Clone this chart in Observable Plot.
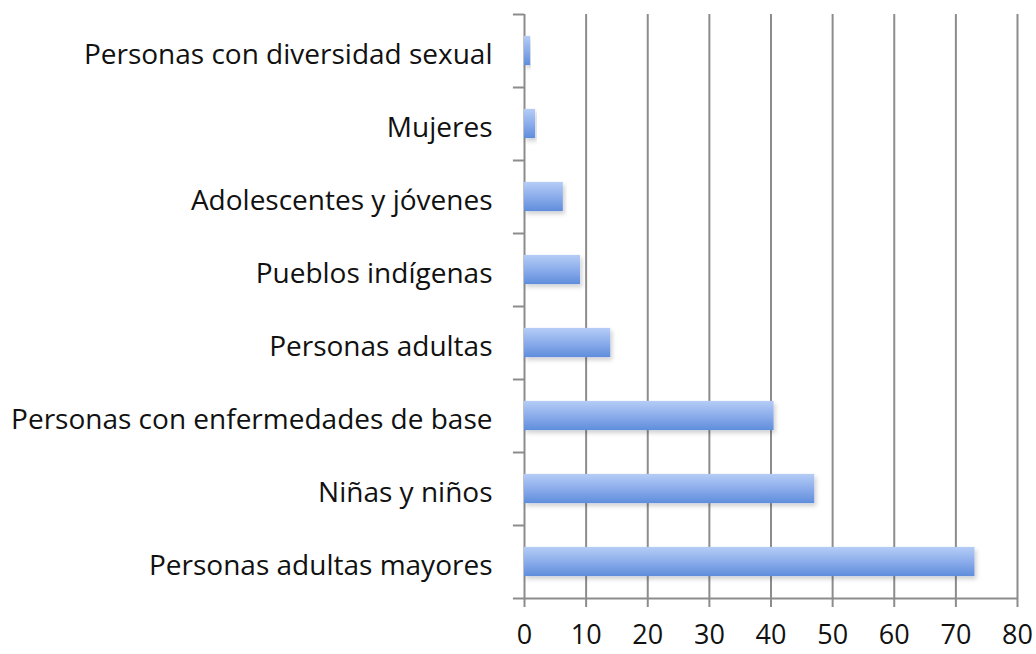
<!DOCTYPE html>
<html>
<head>
<meta charset="utf-8">
<script src="https://cdn.jsdelivr.net/npm/d3@7"></script>
<script src="https://cdn.jsdelivr.net/npm/@observablehq/plot@0.6"></script>
<style>
  html, body { margin: 0; padding: 0; background: #fff; }
  #chart svg { display: block; }
</style>
</head>
<body>
<div id="chart"></div>
<script>
// Categories listed top to bottom
const categories = [
  "Personas con diversidad sexual",
  "Mujeres",
  "Adolescentes y jóvenes",
  "Pueblos indígenas",
  "Personas adultas",
  "Personas con enfermedades de base",
  "Niñas y niños",
  "Personas adultas mayores"
];
const values = [1.0, 1.8, 6.3, 9.1, 14.0, 40.5, 47.1, 73.1];
const xTicks = [0, 10, 20, 30, 40, 50, 60, 70, 80];

const data = categories.map((c, i) => ({category: c, value: values[i], index: i}));
const boundaries = d3.range(categories.length + 1);

const fontFamily = "'Open Sans', sans-serif";
const gridColor = "#8c8c8c";

const chart = Plot.plot({
  width: 1036,
  height: 654,
  marginLeft: 524,
  marginRight: 19,
  marginTop: 14,
  marginBottom: 56,
  style: {fontFamily, background: "#fff", overflow: "visible"},
  x: {domain: [0, 80], ticks: xTicks},
  y: {domain: [categories.length, 0], axis: null},
  marks: [
    Plot.gridX(xTicks.slice(1), {stroke: gridColor, strokeOpacity: 1, strokeWidth: 2}),
    Plot.ruleY([categories.length], {x1: 0, x2: 80, stroke: gridColor, strokeWidth: 2}),
    Plot.ruleX([0], {y1: 0, y2: categories.length, stroke: gridColor, strokeWidth: 2}),
    Plot.ruleY(boundaries, {x1: -1.8, x2: 0, stroke: gridColor, strokeWidth: 2}),
    Plot.axisX({
      ticks: xTicks, tickSize: 9, tickPadding: 17, stroke: gridColor, strokeWidth: 2,
      fontSize: 27, fill: "#111", label: null
    }),
    Plot.rectX(data, {
      x1: 0, x2: "value",
      y1: d => d.index + 0.3, y2: d => d.index + 0.7,
      fill: "#8cadeb", ariaLabel: "bars"
    }),
    Plot.text(data, {
      x: 0, y: d => d.index + 0.5, text: "category",
      textAnchor: "end", dx: -32, dy: 4, fontSize: 28, fill: "#111"
    })
  ]
});

const ns = "http://www.w3.org/2000/svg";
const defs = document.createElementNS(ns, "defs");
defs.innerHTML = `
  <linearGradient id="barGrad" x1="0" y1="0" x2="0" y2="1">
    <stop offset="0" stop-color="#b5cdf6"/>
    <stop offset="0.5" stop-color="#8cadeb"/>
    <stop offset="1" stop-color="#5f8ddb"/>
  </linearGradient>
  <filter id="barShadow" x="-5%" y="-30%" width="115%" height="170%">
    <feDropShadow dx="2" dy="3" stdDeviation="2" flood-color="#000" flood-opacity="0.18"/>
  </filter>`;
chart.insertBefore(defs, chart.firstChild);
chart.querySelectorAll("rect").forEach(r => {
  const g = r.parentNode;
  if (g && (g.getAttribute("fill") === "#8cadeb" || r.getAttribute("fill") === "#8cadeb")) {
    r.setAttribute("fill", "url(#barGrad)");
    r.setAttribute("filter", "url(#barShadow)");
  }
});
chart.querySelectorAll("g").forEach(g => {
  if (g.getAttribute("fill") === "#8cadeb") g.setAttribute("fill", "url(#barGrad)");
});
document.getElementById("chart").appendChild(chart);
</script>
</body>
</html>
